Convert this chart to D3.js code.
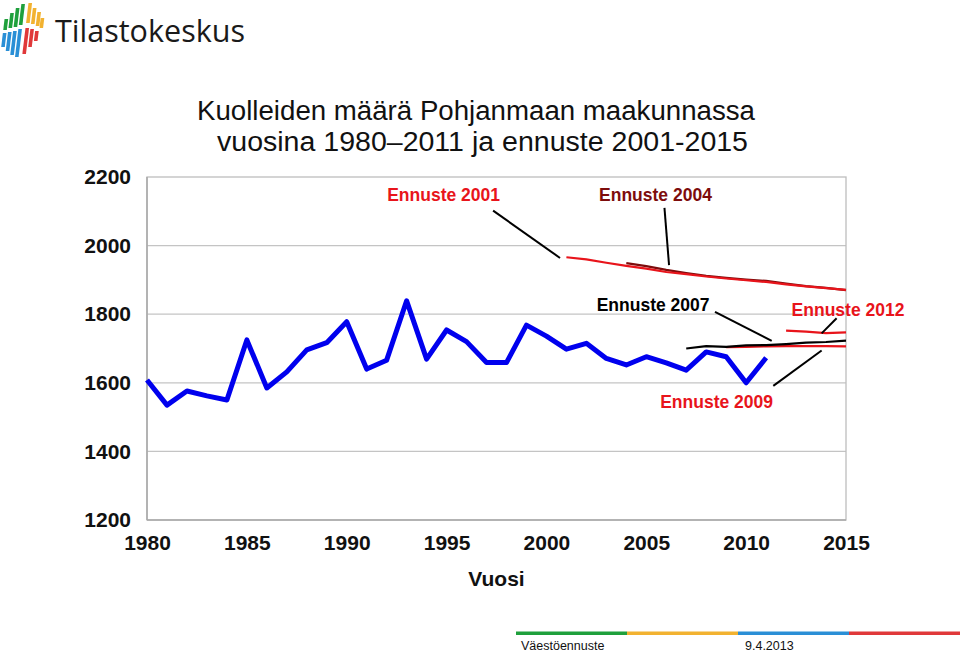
<!DOCTYPE html>
<html>
<head>
<meta charset="utf-8">
<script src="https://cdn.jsdelivr.net/npm/d3@7"></script>
<style>
  html, body { margin: 0; padding: 0; background: #fff; }
  svg { display: block; font-family: "Liberation Sans", Arial, sans-serif; }
</style>
</head>
<body>
<svg id="chart" width="960" height="653"></svg>
<script>
// ---------- DATA ----------
const titleLines = ["Kuolleiden määrä Pohjanmaan maakunnassa", "vuosina 1980\u20132011 ja ennuste 2001-2015"];
const xAxisTitle = "Vuosi";
const yTicks = [1200, 1400, 1600, 1800, 2000, 2200];
const xTicks = [1980, 1985, 1990, 1995, 2000, 2005, 2010, 2015];

const years = [1980,1981,1982,1983,1984,1985,1986,1987,1988,1989,1990,1991,1992,1993,1994,1995,
               1996,1997,1998,1999,2000,2001,2002,2003,2004,2005,2006,2007,2008,2009,2010,2011];
const deaths = [1608,1535,1576,1562,1550,1725,1585,1632,1696,1717,1778,1640,1666,1839,1669,1754,
                1720,1659,1659,1768,1736,1698,1715,1671,1652,1676,1658,1637,1690,1676,1600,1673];

const years2001 = [2001,2002,2003,2004,2005,2006,2007,2008,2009,2010,2011,2012,2013,2014,2015];
const ennuste2001 = [1966,1960,1950,1941,1933,1923,1917,1910,1904,1899,1894,1887,1881,1876,1871];

const years2004 = [2004,2005,2006,2007,2008,2009,2010,2011,2012,2013,2014,2015];
const ennuste2004 = [1949,1940,1929,1920,1912,1906,1901,1897,1889,1882,1877,1870];

const years2007 = [2007,2008,2009,2010,2011,2012,2013,2014,2015];
const ennuste2007 = [1700,1707,1705,1709,1710,1713,1717,1719,1723];

const years2009 = [2009,2010,2011,2012,2013,2014,2015];
const ennuste2009 = [1704,1705,1706,1707,1707,1707,1706];

const years2012 = [2012,2013,2014,2015];
const ennuste2012 = [1752,1749,1745,1747];

// annotation labels (data coordinates) and pointer lines
const labelNames  = ["Ennuste 2001", "Ennuste 2004", "Ennuste 2007", "Ennuste 2012", "Ennuste 2009"];
const labelYears  = [1994.85, 2005.46, 2005.34, 2015.1, 2008.52];
const labelValues = [2131, 2131, 1809, 1795, 1527];
const pointerFrom = [[1997.33, 2102], [2005.91, 2110], [2008.44, 1807], [2014.53, 1788], [2011.36, 1591]];
const pointerTo   = [[2000.68, 1964], [2006.14, 1943], [2011.28, 1722], [2013.78, 1744], [2013.78, 1694]];

const footerLeft = "Väestöennuste";
const footerRight = "9.4.2013";
const logoText = "Tilastokeskus";

// ---------- STYLE ----------
const RED = "#e8141b";
const DARKRED = "#7d0c0c";
const labelColors = [RED, DARKRED, "#000", RED, RED];

const svg = d3.select("#chart");
const x = d3.scaleLinear().domain([1980, 2015]).range([147, 846]);
const y = d3.scaleLinear().domain([1200, 2200]).range([520, 177]);

// ---------- LOGO ----------
const logo = svg.append("g");
const logoBars = [
  {x: 4,  t1: 19, b1: 30, t2: 33, b2: 47, c1: "#1fa03c", c2: "#2a8fd6"},
  {x: 9,  t1: 13, b1: 28, t2: 32, b2: 51, c1: "#1fa03c", c2: "#2a8fd6"},
  {x: 14, t1: 8,  b1: 27, t2: 31, b2: 55, c1: "#1fa03c", c2: "#2a8fd6"},
  {x: 19, t1: 4,  b1: 25, t2: 29, b2: 57, c1: "#1fa03c", c2: "#2a8fd6"},
  {x: 26, t1: 3,  b1: 23, t2: 28, b2: 54, c1: "#f2b230", c2: "#e0383a"},
  {x: 31, t1: 8,  b1: 24, t2: 29, b2: 47, c1: "#f2b230", c2: "#e0383a"},
  {x: 36, t1: 12, b1: 26, t2: 31, b2: 41, c1: "#f2b230", c2: "#e0383a"},
  {x: 40, t1: 18, b1: 28, t2: 0,  b2: 0,  c1: "#f2b230", c2: "#e0383a"}
];
const slant = 0.12, bw = 3.6;
function para(x0, t, b) {
  return [[x0 + slant*(57-t), t], [x0 + slant*(57-t) + bw, t], [x0 + slant*(57-b) + bw, b], [x0 + slant*(57-b), b]];
}
logoBars.forEach(d => {
  logo.append("polygon").attr("points", para(d.x - 4, d.t1, d.b1).join(" ")).attr("fill", d.c1);
  if (d.b2 > d.t2) logo.append("polygon").attr("points", para(d.x - 4, d.t2, d.b2).join(" ")).attr("fill", d.c2);
});
logo.append("text").attr("x", 55).attr("y", 42)
  .attr("font-family", "'Open Sans', Lato, sans-serif").attr("font-size", 31)
  .attr("fill", "#1a1a1a").attr("textLength", 190).attr("lengthAdjust", "spacingAndGlyphs")
  .text(logoText);

// ---------- TITLE ----------
svg.append("text").attr("x", 197).attr("y", 120).attr("font-size", 27).attr("fill", "#111")
  .attr("textLength", 558).attr("lengthAdjust", "spacingAndGlyphs").text(titleLines[0]);
svg.append("text").attr("x", 217).attr("y", 151).attr("font-size", 27).attr("fill", "#111")
  .attr("textLength", 531).attr("lengthAdjust", "spacingAndGlyphs").text(titleLines[1]);

// ---------- GRID + FRAME ----------
const plot = svg.append("g");
plot.selectAll("line.grid").data(yTicks.filter(v => v > 1200 && v < 2200)).enter().append("line")
  .attr("x1", x(1980)).attr("x2", x(2015)).attr("y1", d => y(d)).attr("y2", d => y(d))
  .attr("stroke", "#c4c4c4").attr("stroke-width", 1.3);
plot.append("rect").attr("x", x(1980)).attr("y", y(2200)).attr("width", x(2015) - x(1980)).attr("height", y(1200) - y(2200))
  .attr("fill", "none").attr("stroke", "#bdbdbd").attr("stroke-width", 1.3);
plot.append("line").attr("x1", x(1980)).attr("x2", x(1980)).attr("y1", y(2200)).attr("y2", y(1200))
  .attr("stroke", "#a8a8a8").attr("stroke-width", 1.5);
plot.append("line").attr("x1", x(1980)).attr("x2", x(2015)).attr("y1", y(1200)).attr("y2", y(1200))
  .attr("stroke", "#a8a8a8").attr("stroke-width", 1.5);

// ---------- AXES ----------
const yAxis = d3.axisLeft(y).tickValues(yTicks).tickSize(0).tickPadding(16).tickFormat(d3.format("d"));
const gy = svg.append("g").attr("transform", `translate(${x(1980)},0)`).call(yAxis);
gy.select(".domain").remove();
gy.selectAll("text").attr("font-size", 21).attr("font-weight", "bold").attr("fill", "#111")
  .attr("font-family", "'Liberation Sans', Arial, sans-serif");

const xAxis = d3.axisBottom(x).tickValues(xTicks).tickSize(0).tickPadding(15).tickFormat(d3.format("d"));
const gx = svg.append("g").attr("transform", `translate(0,${y(1200)})`).call(xAxis);
gx.select(".domain").remove();
gx.selectAll("text").attr("font-size", 21).attr("font-weight", "bold").attr("fill", "#111")
  .attr("font-family", "'Liberation Sans', Arial, sans-serif");

svg.append("text").attr("x", (x(1980) + x(2015)) / 2).attr("y", 586).attr("text-anchor", "middle")
  .attr("font-size", 21).attr("font-weight", "bold").attr("fill", "#111").text(xAxisTitle);

// ---------- LINES ----------
const line = d3.line().x(d => x(d[0])).y(d => y(d[1]));
function series(yrs, vals, color, width) {
  svg.append("path").datum(yrs.map((yr, i) => [yr, vals[i]]))
    .attr("d", line).attr("fill", "none").attr("stroke", color).attr("stroke-width", width)
    .attr("stroke-linejoin", "round").attr("stroke-linecap", "butt");
}
series(years2004, ennuste2004, DARKRED, 2.2);
series(years2001, ennuste2001, RED, 2.2);
series(years2009, ennuste2009, RED, 2.2);
series(years2007, ennuste2007, "#000", 2.2);
series(years2012, ennuste2012, RED, 2.2);
series(years, deaths, "#0000ee", 5);

// ---------- ANNOTATIONS ----------
pointerFrom.forEach((p, i) => {
  svg.append("line").attr("x1", x(p[0])).attr("y1", y(p[1]))
    .attr("x2", x(pointerTo[i][0])).attr("y2", y(pointerTo[i][1]))
    .attr("stroke", "#000").attr("stroke-width", 2);
});
labelNames.forEach((t, i) => {
  svg.append("text").attr("x", x(labelYears[i])).attr("y", y(labelValues[i]))
    .attr("text-anchor", "middle").attr("font-size", 17.5).attr("font-weight", "bold")
    .attr("fill", labelColors[i]).text(t);
});

// ---------- FOOTER ----------
const footColors = ["#1fa03c", "#f2b230", "#2a8fd6", "#e0383a"];
const fx = d3.scaleLinear().domain([0, 4]).range([516, 960]);
footColors.forEach((c, i) => {
  svg.append("rect").attr("x", fx(i)).attr("y", 631.5).attr("width", fx(i + 1) - fx(i)).attr("height", 3.5).attr("fill", c);
});
svg.append("text").attr("x", 521).attr("y", 650).attr("font-size", 12.5).attr("fill", "#111").text(footerLeft);
svg.append("text").attr("x", 745).attr("y", 650).attr("font-size", 12.5).attr("fill", "#111").text(footerRight);
</script>
</body>
</html>
